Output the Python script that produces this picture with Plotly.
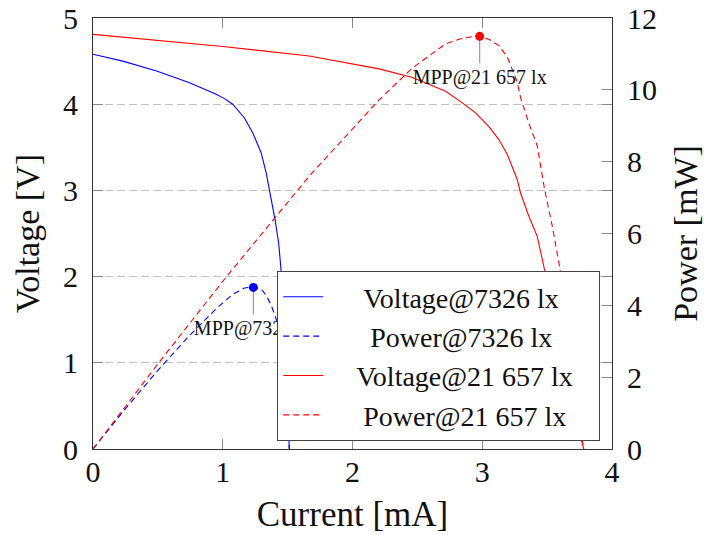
import plotly.graph_objects as go

# ---- data ----
current_7326 = [0, 0.23, 0.49, 0.744, 0.949, 1.013, 1.077, 1.167, 1.231, 1.295, 1.334, 1.372,
                1.403, 1.431, 1.449, 1.47, 1.49, 1.506, 1.513]
voltage_7326 = [4.58, 4.50, 4.385, 4.25, 4.115, 4.065, 4.00, 3.84, 3.67, 3.44, 3.21, 2.93,
                2.66, 2.39, 2.08, 1.50, 0.80, 0.15, 0.0]
power_7326 = [0.0, 1.035, 2.149, 3.162, 3.905, 4.118, 4.308, 4.481, 4.518, 4.455, 4.282, 4.020,
              3.732, 3.420, 3.014, 2.205, 1.192, 0.226, 0.0]

current_21657 = [0, 0.5, 1.0, 1.667, 2.205, 2.462, 2.718, 2.833, 2.949, 3.051, 3.128,
                 3.192, 3.269, 3.295, 3.359, 3.423, 3.48, 3.54, 3.60, 3.68, 3.757, 3.782]
voltage_21657 = [4.81, 4.74, 4.67, 4.56, 4.41, 4.31, 4.15, 4.03, 3.90, 3.74, 3.59,
                 3.42, 3.13, 2.97, 2.70, 2.47, 2.08, 1.75, 1.39, 0.80, 0.15, 0.0]
power_21657 = [0.0, 2.37, 4.67, 7.60, 9.72, 10.61, 11.28, 11.42, 11.50, 11.41, 11.23,
               10.92, 10.23, 9.79, 9.07, 8.45, 7.24, 6.20, 5.00, 2.94, 0.56, 0.0]

mpp_current = [1.236, 2.98]
mpp_power = [4.50, 11.49]
mpp_labels = ["MPP@7326 lx", "MPP@21 657 lx"]
mpp_colors = ["#0000ff", "#ff0000"]

legend_names = ["Voltage@7326 lx", "Power@7326 lx", "Voltage@21 657 lx", "Power@21 657 lx"]
legend_pad = [(5, 0), (6, 0), (4, 3), (5, 0)]  # centring (non-breaking spaces)

FONT = "Liberation Serif"
BLUE = "#0000ff"
RED = "#ff0000"
DASH = "6px,4px"
NB = "\u00a0"


def lname(i):
    a, b = legend_pad[i]
    return NB * a + legend_names[i] + NB * b


fig = go.Figure()
fig.add_trace(go.Scatter(x=current_7326, y=voltage_7326, mode="lines",
                         line=dict(color=BLUE, width=1.1), name=lname(0)))
fig.add_trace(go.Scatter(x=current_7326, y=power_7326, mode="lines", yaxis="y2",
                         line=dict(color=BLUE, width=1.1, dash=DASH), name=lname(1)))
fig.add_trace(go.Scatter(x=current_21657, y=voltage_21657, mode="lines",
                         line=dict(color=RED, width=1.1), name=lname(2)))
fig.add_trace(go.Scatter(x=current_21657, y=power_21657, mode="lines", yaxis="y2",
                         line=dict(color=RED, width=1.1, dash=DASH), name=lname(3)))

for i in range(2):
    fig.add_trace(go.Scatter(x=[mpp_current[i]], y=[mpp_power[i]], yaxis="y2",
                             mode="markers+text", marker=dict(color=mpp_colors[i], size=9),
                             text=["<br>" + mpp_labels[i]], textposition="bottom center",
                             textfont=dict(family=FONT, size=20, color="#111"),
                             showlegend=False, cliponaxis=False))
    fig.add_shape(type="line", xref="x", yref="y2", x0=mpp_current[i], x1=mpp_current[i],
                  ysizemode="pixel", yanchor=mpp_power[i], y0=0, y1=-27,
                  line=dict(color="#999999", width=1.2), layer="below")

axis_common = dict(ticks="inside", ticklen=10, tickcolor="#888888", tickwidth=1,
                   showline=True, linecolor="#333333", linewidth=1.2, zeroline=False,
                   automargin=False,
                   tickfont=dict(family=FONT, size=30, color="#111"))

fig.update_layout(
    width=704, height=535,
    margin=dict(l=93, r=92, t=18, b=86),
    paper_bgcolor="white", plot_bgcolor="white",
    font=dict(family=FONT, size=30, color="#111"),
    xaxis=dict(range=[0, 4], dtick=1, mirror="ticks", showgrid=False,
               ticklabelstandoff=-4,
               title=dict(text="Current [mA]", font=dict(size=35), standoff=14),
               **axis_common),
    yaxis=dict(range=[0, 5], dtick=1, mirror="ticks", showgrid=True,
               gridcolor="#c0c0c0", griddash="8px,4px", gridwidth=1,
               ticklabelstandoff=8,
               title=dict(text="Voltage [V]", font=dict(size=34), standoff=13),
               **axis_common),
    yaxis2=dict(range=[0, 12], dtick=2, overlaying="y", side="right", showgrid=False,
                ticklabelstandoff=8,
                title=dict(text="Power [mW]", font=dict(size=34), standoff=18),
                **axis_common),
    legend=dict(x=0.355, y=0.413, xanchor="left", yanchor="top",
                bgcolor="white", bordercolor="#444444", borderwidth=1,
                font=dict(family=FONT, size=28, color="#111"),
                tracegroupgap=0, itemwidth=40),
    showlegend=True,
)

fig.write_html("out.html")
